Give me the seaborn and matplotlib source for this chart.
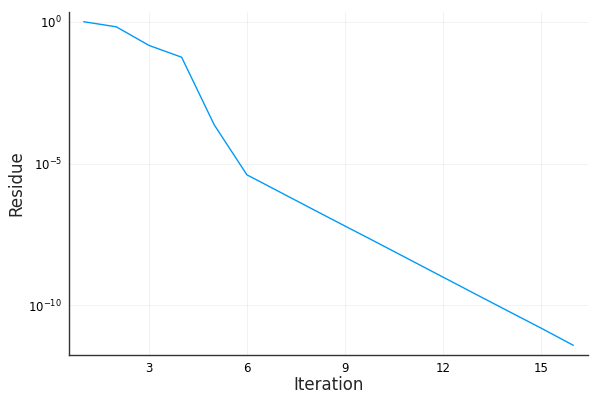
"""Residue convergence per iteration, log-scale y axis."""

import matplotlib

matplotlib.use("Agg")
import matplotlib.pyplot as plt
import numpy as np
import pandas as pd
import seaborn as sns

ITERATIONS = [1, 2, 3, 4, 5, 6, 7, 8, 9, 10, 11, 12, 13, 14, 15, 16]
RESIDUES = [
    1.0, 0.66, 0.146, 0.056, 2.3e-4, 4.0e-6, 1.0e-6, 2.5e-7,
    6.3e-8, 1.6e-8, 4.0e-9, 1.0e-9, 2.5e-10, 6.3e-11, 1.6e-11, 3.9e-12,
]
X_TICKS = [3, 6, 9, 12, 15]
Y_TICKS = [1e0, 1e-5, 1e-10]
Y_TICK_LABELS = [r"$10^{0}$", r"$10^{-5}$", r"$10^{-10}$"]

LINE_COLOR = "#009AFA"


def main() -> None:
    sns.set_style("white")
    plt.rcParams["font.family"] = ["DejaVu Sans"]

    df = pd.DataFrame({"Iteration": ITERATIONS, "Residue": RESIDUES})

    fig = plt.figure(figsize=(6, 4), dpi=100)
    ax = fig.add_axes([0.115, 0.1125, 0.865, 0.8575])
    sns.lineplot(data=df, x="Iteration", y="Residue", ax=ax, color=LINE_COLOR, linewidth=1)

    ax.set_yscale("log")
    x_pad = 0.03 * (max(ITERATIONS) - min(ITERATIONS))
    ax.set_xlim(min(ITERATIONS) - x_pad, max(ITERATIONS) + x_pad)
    lo, hi = np.log10(min(RESIDUES)), np.log10(max(RESIDUES))
    y_pad = 0.03 * (hi - lo)
    ax.set_ylim(10 ** (lo - y_pad), 10 ** (hi + y_pad))

    ax.set_xticks(X_TICKS)
    ax.set_xticklabels([str(t) for t in X_TICKS])
    ax.set_yticks(Y_TICKS)
    ax.set_yticklabels(Y_TICK_LABELS)
    ax.yaxis.set_minor_locator(matplotlib.ticker.NullLocator())

    ax.grid(True, color="black", alpha=0.06, linewidth=0.6)
    ax.tick_params(direction="in", length=4, width=0.8, labelsize=8.5, colors="#222222",
                   labelcolor="black", pad=5)
    for side in ("top", "right"):
        ax.spines[side].set_visible(False)
    for side in ("left", "bottom"):
        ax.spines[side].set_color("#333333")
        ax.spines[side].set_linewidth(1)

    ax.set_xlabel("Iteration", fontsize=12, labelpad=1)
    ax.set_ylabel("Residue", fontsize=12, labelpad=2)

    fig.savefig("out.png", dpi=100)
    plt.close(fig)


if __name__ == "__main__":
    main()
